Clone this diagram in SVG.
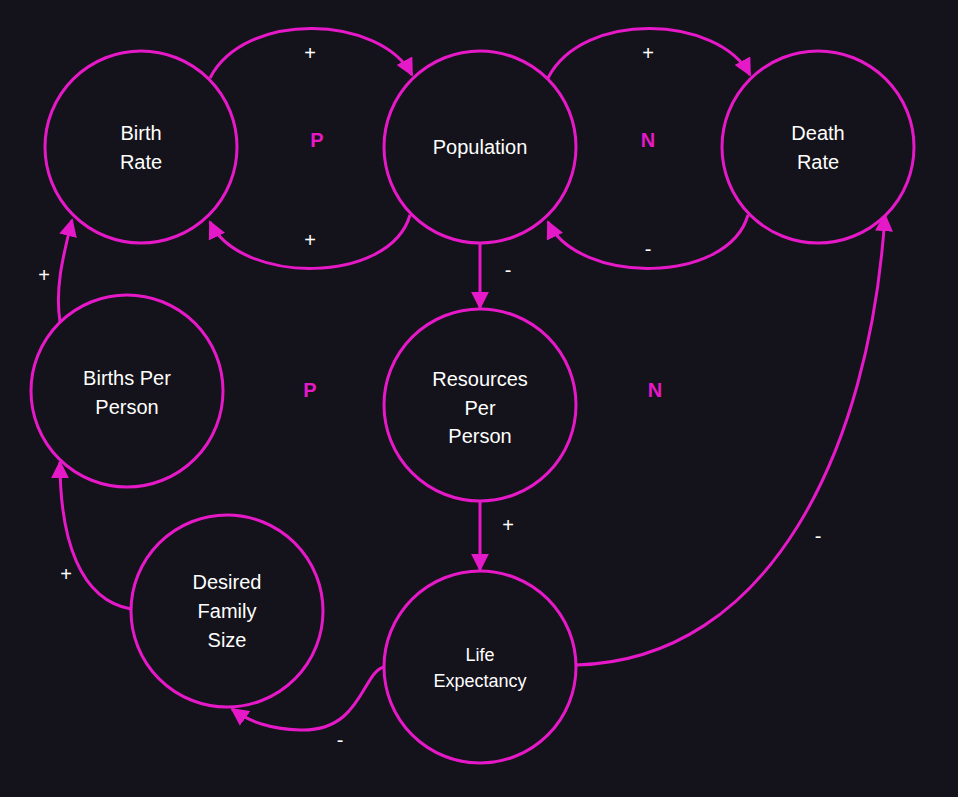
<svg xmlns="http://www.w3.org/2000/svg" width="958" height="797" viewBox="0 0 958 797">
<defs>
<marker id="ah" viewBox="0 0 10 10" refX="9" refY="5" markerWidth="6" markerHeight="6" orient="auto" markerUnits="strokeWidth"><path d="M0,0 L10,5 L0,10 z" fill="#e619c8"/></marker>
<style>
.n{fill:#14121a;stroke:#e619c8;stroke-width:3}
.t{fill:#fff;font-family:"Liberation Sans",Arial,sans-serif;font-size:20px;text-anchor:middle}
.s{font-size:18px}
.c{fill:none;stroke:#e619c8;stroke-width:3;marker-end:url(#ah)}
.l{fill:#fff;font-family:"Liberation Sans",Arial,sans-serif;font-size:20px;text-anchor:middle}
.m{fill:#e619c8;font-family:"Liberation Sans",Arial,sans-serif;font-size:20px;font-weight:bold;text-anchor:middle}
</style>
</defs>
<rect width="958" height="797" fill="#14121a"/>
<g id="connectors">
<path class="c" d="M210,78 C245,10 380,15 412,75"/>
<path class="c" d="M410,215 C390,285 240,285 210,222"/>
<path class="c" d="M548,78 C583,10 718,15 750,75"/>
<path class="c" d="M748,215 C728,285 578,285 548,222"/>
<path class="c" d="M480,243 L480,308"/>
<path class="c" d="M480,501 L480,570"/>
<path class="c" d="M576,665 C770,660 870,450 885,215"/>
<path class="c" d="M384,667 C362,672 362,732 300,730 C270,729 250,722 232,709"/>
<path class="c" d="M131,609 C80,600 60,540 60,462"/>
<path class="c" d="M60,322 C55,290 62,260 72,220"/>
</g>
<g id="labels">
<text class="l" x="310" y="60">+</text>
<text class="l" x="310" y="247">+</text>
<text class="l" x="648" y="60">+</text>
<text class="l" x="648" y="256">-</text>
<text class="l" x="508" y="277">-</text>
<text class="l" x="508" y="532">+</text>
<text class="l" x="818" y="543">-</text>
<text class="l" x="340" y="747">-</text>
<text class="l" x="66" y="581">+</text>
<text class="l" x="44" y="282">+</text>
<text class="m" x="317" y="147">P</text>
<text class="m" x="310" y="397">P</text>
<text class="m" x="648" y="147">N</text>
<text class="m" x="655" y="397">N</text>
</g>
<g id="birth-rate"><circle class="n" cx="141" cy="147" r="96"/><text class="t" x="141" y="140">Birth</text><text class="t" x="141" y="169">Rate</text></g>
<g id="population"><circle class="n" cx="480" cy="147" r="96"/><text class="t" x="480" y="154">Population</text></g>
<g id="death-rate"><circle class="n" cx="818" cy="147" r="96"/><text class="t" x="818" y="140">Death</text><text class="t" x="818" y="169">Rate</text></g>
<g id="births-per-person"><circle class="n" cx="127" cy="391" r="96"/><text class="t" x="127" y="385">Births Per</text><text class="t" x="127" y="414">Person</text></g>
<g id="resources-per-person"><circle class="n" cx="480" cy="405" r="96"/><text class="t" x="480" y="386">Resources</text><text class="t" x="480" y="415">Per</text><text class="t" x="480" y="443">Person</text></g>
<g id="desired-family-size"><circle class="n" cx="227" cy="611" r="96"/><text class="t" x="227" y="589">Desired</text><text class="t" x="227" y="618">Family</text><text class="t" x="227" y="647">Size</text></g>
<g id="life-expectancy"><circle class="n" cx="480" cy="667" r="96"/><text class="t s" x="480" y="661">Life</text><text class="t s" x="480" y="687">Expectancy</text></g>
</svg>
